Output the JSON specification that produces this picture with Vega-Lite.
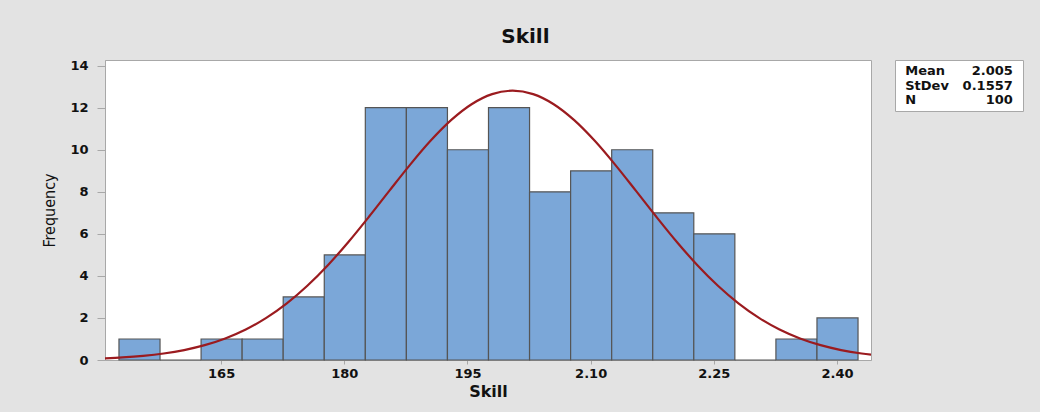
{
  "$schema": "https://vega.github.io/schema/vega-lite/v6.json",
  "background": "#e3e3e3",
  "padding": {"left": 41, "top": 27, "right": 16, "bottom": 12},
  "title": {"text": "Skill", "fontSize": 20, "font": "DejaVu Sans", "fontWeight": "bold", "anchor": "middle", "color": "#111111", "offset": 12, "dx": -7},
  "spacing": 22,
  "datasets": {
    "bins": [
      {"lo": 1.525, "hi": 1.575, "count": 1},
      {"lo": 1.575, "hi": 1.625, "count": 0},
      {"lo": 1.625, "hi": 1.675, "count": 1},
      {"lo": 1.675, "hi": 1.725, "count": 1},
      {"lo": 1.725, "hi": 1.775, "count": 3},
      {"lo": 1.775, "hi": 1.825, "count": 5},
      {"lo": 1.825, "hi": 1.875, "count": 12},
      {"lo": 1.875, "hi": 1.925, "count": 12},
      {"lo": 1.925, "hi": 1.975, "count": 10},
      {"lo": 1.975, "hi": 2.025, "count": 12},
      {"lo": 2.025, "hi": 2.075, "count": 8},
      {"lo": 2.075, "hi": 2.125, "count": 9},
      {"lo": 2.125, "hi": 2.175, "count": 10},
      {"lo": 2.175, "hi": 2.225, "count": 7},
      {"lo": 2.225, "hi": 2.275, "count": 6},
      {"lo": 2.275, "hi": 2.325, "count": 0},
      {"lo": 2.325, "hi": 2.375, "count": 1},
      {"lo": 2.375, "hi": 2.425, "count": 2}
    ],
    "curve": [
      {"x": 1.505, "density": 0.0738},
      {"x": 1.53, "density": 0.1221},
      {"x": 1.555, "density": 0.1967},
      {"x": 1.58, "density": 0.3088},
      {"x": 1.605, "density": 0.4725},
      {"x": 1.63, "density": 0.705},
      {"x": 1.655, "density": 1.024},
      {"x": 1.68, "density": 1.45},
      {"x": 1.705, "density": 2.002},
      {"x": 1.73, "density": 2.693},
      {"x": 1.755, "density": 3.53},
      {"x": 1.78, "density": 4.509},
      {"x": 1.805, "density": 5.614},
      {"x": 1.83, "density": 6.812},
      {"x": 1.855, "density": 8.055},
      {"x": 1.88, "density": 9.282},
      {"x": 1.905, "density": 10.424},
      {"x": 1.93, "density": 11.408},
      {"x": 1.955, "density": 12.167},
      {"x": 1.98, "density": 12.647},
      {"x": 2.005, "density": 12.811},
      {"x": 2.03, "density": 12.647},
      {"x": 2.055, "density": 12.167},
      {"x": 2.08, "density": 11.408},
      {"x": 2.105, "density": 10.424},
      {"x": 2.13, "density": 9.282},
      {"x": 2.155, "density": 8.055},
      {"x": 2.18, "density": 6.812},
      {"x": 2.205, "density": 5.614},
      {"x": 2.23, "density": 4.509},
      {"x": 2.255, "density": 3.53},
      {"x": 2.28, "density": 2.693},
      {"x": 2.305, "density": 2.002},
      {"x": 2.33, "density": 1.45},
      {"x": 2.355, "density": 1.024},
      {"x": 2.38, "density": 0.705},
      {"x": 2.405, "density": 0.4725},
      {"x": 2.43, "density": 0.3088},
      {"x": 2.455, "density": 0.1967}
    ],
    "stats": [
      {"stat": "Mean", "value": "2.005"},
      {"stat": "StDev", "value": "0.1557"},
      {"stat": "N", "value": "100"}
    ]
  },
  "config": {
    "view": {"stroke": "#a8a8a8", "fill": "white"},
    "axis": {
      "grid": false,
      "domainColor": "#a8a8a8",
      "tickColor": "#a8a8a8",
      "labelFont": "DejaVu Sans",
      "labelFontSize": 13,
      "labelFontWeight": "bold",
      "labelColor": "#111111",
      "titleFont": "DejaVu Sans",
      "titleFontSize": 16,
      "titleFontWeight": "bold",
      "titleColor": "#111111"
    }
  },
  "hconcat": [
    {
      "width": 766,
      "height": 300,
      "layer": [
        {
          "data": {"name": "bins"},
          "mark": {"type": "bar", "color": "#7ba7d8", "stroke": "#555555", "strokeWidth": 1.2, "binSpacing": 0},
          "encoding": {
            "x": {
              "field": "lo", "type": "quantitative", "bin": "binned", "title": "Skill",
              "scale": {"domain": [1.5086, 2.4414], "nice": false, "zero": false},
              "axis": {
                "values": [1.65, 1.8, 1.95, 2.1, 2.25, 2.4],
                "labelExpr": "datum.value < 2 ? format(datum.value * 100, '.0f') : format(datum.value, '.2f')",
                "tickSize": 4, "labelPadding": 3, "titlePadding": 3
              }
            },
            "x2": {"field": "hi"},
            "y": {
              "field": "count", "type": "quantitative", "title": "Frequency",
              "scale": {"domain": [0, 14.27], "nice": false},
              "axis": {
                "values": [0, 2, 4, 6, 8, 10, 12, 14],
                "tickSize": 8, "labelPadding": 9, "titlePadding": 12,
                "titleFont": "Liberation Sans Narrow, DejaVu Sans Condensed, Roboto Condensed, Liberation Sans",
                "titleFontWeight": "normal", "titleFontSize": 16
              }
            }
          }
        },
        {
          "data": {"name": "curve"},
          "mark": {"type": "line", "color": "#9b1b1f", "strokeWidth": 2.2, "interpolate": "monotone", "clip": true},
          "encoding": {
            "x": {"field": "x", "type": "quantitative", "scale": {"domain": [1.5086, 2.4414], "nice": false, "zero": false}},
            "y": {"field": "density", "type": "quantitative", "scale": {"domain": [0, 14.27], "nice": false}}
          }
        }
      ]
    },
    {
      "width": 128,
      "height": 51,
      "data": {"name": "stats"},
      "layer": [
        {
          "mark": {"type": "text", "align": "left", "baseline": "middle", "font": "DejaVu Sans", "fontSize": 13, "fontWeight": "bold", "color": "#111111"},
          "encoding": {
            "x": {"datum": "label", "type": "nominal", "scale": {"type": "point", "domain": ["label", "value"], "padding": 0.095}, "axis": null},
            "y": {"field": "stat", "type": "nominal", "scale": {"type": "point", "domain": ["Mean", "StDev", "N"], "padding": 0.82}, "axis": null},
            "text": {"field": "stat"}
          }
        },
        {
          "mark": {"type": "text", "align": "right", "baseline": "middle", "font": "DejaVu Sans", "fontSize": 13, "fontWeight": "bold", "color": "#111111"},
          "encoding": {
            "x": {"datum": "value", "type": "nominal"},
            "y": {"field": "stat", "type": "nominal"},
            "text": {"field": "value"}
          }
        }
      ]
    }
  ]
}
